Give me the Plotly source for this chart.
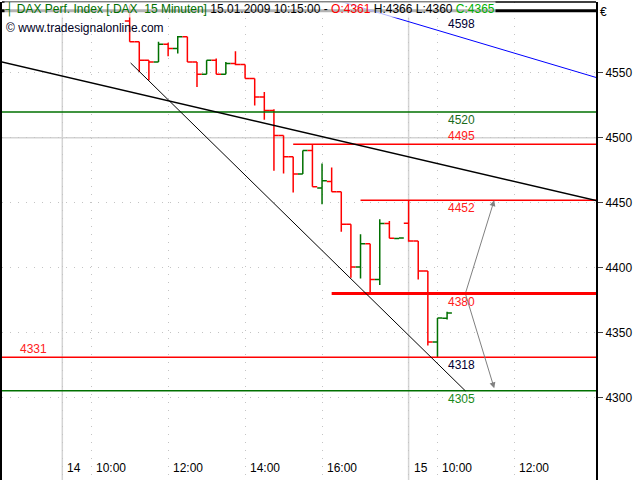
import plotly.graph_objects as go
import pandas as pd

# ---------------- data ----------------
bar_times = [
    "2009-01-14 11:00", "2009-01-14 11:15", "2009-01-14 11:30", "2009-01-14 11:45",
    "2009-01-14 12:00", "2009-01-14 12:15", "2009-01-14 12:30", "2009-01-14 12:45",
    "2009-01-14 13:00", "2009-01-14 13:15", "2009-01-14 13:30", "2009-01-14 13:45",
    "2009-01-14 14:00", "2009-01-14 14:15", "2009-01-14 14:30", "2009-01-14 14:45",
    "2009-01-14 15:00", "2009-01-14 15:15", "2009-01-14 15:30", "2009-01-14 15:45",
    "2009-01-14 16:00", "2009-01-14 16:15", "2009-01-14 16:30", "2009-01-14 16:45",
    "2009-01-14 17:00", "2009-01-14 17:15", "2009-01-14 17:30", "2009-01-14 17:45",
    "2009-01-14 18:00",
    "2009-01-15 09:15", "2009-01-15 09:30", "2009-01-15 09:45", "2009-01-15 10:00",
    "2009-01-15 10:15",
]
opens = [4590.0, 4574.0, 4559.8, 4558.5, 4572.2, 4568.9, 4577.9, 4558.5, 4549.0, 4559.8,
         4549.0, 4557.3, 4556.5, 4545.7, 4531.4, 4521.1, 4501.8, 4485.5, 4472.1, 4490.2,
         4461.3, 4466.4, 4458.4, 4433.4, 4400.4, 4418.4, 4390.9, 4433.9, 4422.4,
         4434.2, 4420.5, 4397.3, 4342.6, 4361.0]
highs = [4602.0, 4574.0, 4559.8, 4574.0, 4573.2, 4578.4, 4577.9, 4558.5, 4559.8, 4561.1,
         4558.5, 4566.8, 4556.5, 4545.7, 4535.3, 4522.0, 4501.8, 4485.5, 4490.2, 4494.9,
         4480.3, 4477.2, 4458.4, 4433.4, 4425.7, 4418.4, 4437.3, 4436.0, 4423.0,
         4452.0, 4420.5, 4397.3, 4361.1, 4366.0]
lows = [4574.0, 4550.8, 4544.3, 4558.5, 4562.9, 4565.0, 4558.5, 4539.2, 4549.0, 4549.0,
        4549.0, 4556.0, 4545.7, 4524.9, 4513.9, 4474.7, 4472.6, 4457.9, 4472.1, 4462.3,
        4448.9, 4458.4, 4427.7, 4392.1, 4391.6, 4380.5, 4386.5, 4422.6, 4422.2,
        4420.0, 4390.9, 4340.0, 4331.0, 4360.0]
closes = [4574.0, 4559.8, 4558.5, 4572.2, 4568.9, 4577.9, 4558.5, 4549.0, 4559.8, 4549.0,
          4557.3, 4556.5, 4545.7, 4531.4, 4521.1, 4501.8, 4485.5, 4472.1, 4490.2, 4462.3,
          4466.9, 4458.4, 4433.4, 4400.4, 4418.4, 4390.9, 4433.9, 4422.6, 4422.8,
          4420.5, 4397.3, 4342.6, 4361.1, 4365.0]

# horizontal levels: value, start time (None = whole width)
level_values = [4598, 4520, 4495, 4452, 4380, 4331, 4305]
level_starts = [None, None, "2009-01-14 15:15", "2009-01-14 17:00", "2009-01-14 16:15", None, None]
level_colors = ["#000000", "#007000", "#ff0000", "#ff0000", "#ff0000", "#ff0000", "#007000"]
level_widths = [3, 1.5, 1.5, 1.5, 3, 1.5, 1.5]

label_values = [4598, 4520, 4495, 4452, 4380, 4331, 4318, 4305]
label_colors = ["#000033", "#1a6a1a", "#ff2020", "#ff2020", "#ff2020", "#ff2020", "#000033", "#1a8a1a"]
label_shift = [-13, -8, 8, -8, -8, 8, 9, -8]
label_left = [False, False, False, False, False, True, False, False]

# trend lines (bar position, price)
trend_upper_x = [-6.3, 55.5]
trend_upper_y = [4558.5, 4451.7]
trend_lower_x = [7.1, 41.9]
trend_lower_y = [4557.7, 4305.0]
trend_blue_x = [29.0, 55.5]
trend_blue_y = [4605.0, 4546.5]

# projection arrows
arrow_start = (41.9, 4380)
arrow_targets = [(44.9, 4452), (44.9, 4307)]

tick_times = ["2009-01-14 09:15", "2009-01-14 10:00", "2009-01-14 12:00", "2009-01-14 14:00",
              "2009-01-14 16:00", "2009-01-15 09:15", "2009-01-15 10:00", "2009-01-15 12:00"]
tick_text = ["14", "10:00", "12:00", "14:00", "16:00", "15", "10:00", "12:00"]
day_starts = ["2009-01-14 09:15", "2009-01-15 09:15"]
y_ticks = [4300, 4350, 4400, 4450, 4500, 4550]

# ---------------- session grid (15 min bars) ----------------
grid = list(pd.date_range("2009-01-14 09:15", "2009-01-14 18:00", freq="15min")) + \
       list(pd.date_range("2009-01-15 09:15", "2009-01-15 18:00", freq="15min"))
pos = {t: i for i, t in enumerate(grid)}
def P(t):
    return pos[pd.Timestamp(t)]

x_bars = [P(t) for t in bar_times]
X_MIN, X_MAX = -6.27, 55.48
Y_MIN, Y_MAX = 4236.3, 4604.7
FONT = "Liberation Sans, Arial"

fig = go.Figure()

for v, s, c, w in zip(level_values, level_starts, level_colors, level_widths):
    x0 = X_MIN if s is None else P(s)
    fig.add_trace(go.Scatter(x=[x0, X_MAX], y=[v, v], mode="lines",
                             line=dict(color=c, width=w), hoverinfo="skip"))

fig.add_trace(go.Scatter(x=trend_upper_x, y=trend_upper_y, mode="lines",
                         line=dict(color="#000000", width=1.5), hoverinfo="skip"))
fig.add_trace(go.Scatter(x=trend_lower_x, y=trend_lower_y, mode="lines",
                         line=dict(color="#000000", width=1), hoverinfo="skip"))
fig.add_trace(go.Scatter(x=trend_blue_x, y=trend_blue_y, mode="lines",
                         line=dict(color="#0000ff", width=1), hoverinfo="skip"))

fig.add_trace(go.Ohlc(x=x_bars, open=opens, high=highs, low=lows, close=closes,
                      increasing=dict(line=dict(color="#007000", width=1.5)),
                      decreasing=dict(line=dict(color="#ff0000", width=1.5)),
                      tickwidth=0.5, hoverinfo="skip"))

for d in day_starts:
    fig.add_shape(type="line", x0=P(d), x1=P(d), y0=0, y1=1, xref="x", yref="paper",
                  line=dict(color="#d4d4d4", width=1.5), layer="below")
fig.add_shape(type="line", x0=0, x1=1, y0=4500, y1=4500, xref="paper", yref="y",
              line=dict(color="#d4d4d4", width=1.5), layer="below")
# top frame line
fig.add_shape(type="line", x0=0, x1=1, y0=1, y1=1, xref="paper", yref="paper",
              line=dict(color="#000000", width=1.5))

for v, c, sh, left in zip(label_values, label_colors, label_shift, label_left):
    fig.add_annotation(x=-4.6 if left else 39.9, y=v, xref="x", yref="y", text=str(v),
                       showarrow=False, xanchor="left", yanchor="middle", yshift=sh,
                       font=dict(family=FONT, size=12, color=c))

for tx, ty in arrow_targets:
    fig.add_annotation(x=tx, y=ty, ax=arrow_start[0], ay=arrow_start[1],
                       xref="x", yref="y", axref="x", ayref="y", text="",
                       showarrow=True, arrowhead=2, arrowsize=1.2, arrowwidth=1,
                       arrowcolor="#808080")

# time axis labels, inside the frame just right of their grid lines
for t, txt in zip(tick_times, tick_text):
    fig.add_annotation(x=P(t), y=0, xref="x", yref="paper", text=txt, showarrow=False,
                       xanchor="left", yanchor="bottom", xshift=3, yshift=3,
                       font=dict(family=FONT, size=12, color="#000000"))

title_html = ('<span style="color:#007000">┤ DAX Perf. Index [.DAX&nbsp; 15 Minuten]</span>'
              ' 15.01.2009 10:15:00 - <span style="color:#ff0000">O:4361</span>'
              ' H:4366 L:4360 <span style="color:#00b000">C:4365</span>')
fig.add_annotation(x=0, y=1, xref="paper", yref="paper", xanchor="left", yanchor="top",
                   text=title_html, showarrow=False, xshift=2, yshift=1, borderpad=0,
                   bgcolor="rgba(255,255,255,0.7)",
                   font=dict(family=FONT, size=12, color="#000000"))
fig.add_annotation(x=0, y=1, xref="paper", yref="paper", xanchor="left", yanchor="top",
                   text="© www.tradesignalonline.com", showarrow=False, xshift=2, yshift=-17,
                   font=dict(family=FONT, size=12, color="#000022"))
fig.add_annotation(x=1, y=1, xref="paper", yref="paper", xanchor="left", yanchor="top",
                   text="€", showarrow=False, xshift=2, yshift=-1,
                   font=dict(family=FONT, size=12, color="#000000"))

fig.update_layout(
    width=640, height=480, showlegend=False,
    paper_bgcolor="white", plot_bgcolor="white",
    margin=dict(l=2, r=44, t=2, b=0),
    xaxis=dict(range=[X_MIN, X_MAX], rangeslider=dict(visible=False),
               tickvals=[P(t) for t in tick_times], showticklabels=False,
               ticks="", showgrid=True, gridcolor="#c4c4c4", griddash="1px,7px", gridwidth=1,
               zeroline=False, showline=False),
    yaxis=dict(range=[Y_MIN, Y_MAX], side="right", tickvals=y_ticks,
               ticks="outside", ticklen=5, tickcolor="#404040",
               showgrid=True, gridcolor="#c4c4c4", griddash="1px,7px", gridwidth=1,
               zeroline=False, showline=True, linecolor="#000000", linewidth=2, mirror=True,
               tickfont=dict(family=FONT, size=12, color="#000000")),
)

fig.write_html("out.html", config={"displayModeBar": False},
               post_script="document.body.style.margin='0px';document.body.style.overflow='hidden';")
